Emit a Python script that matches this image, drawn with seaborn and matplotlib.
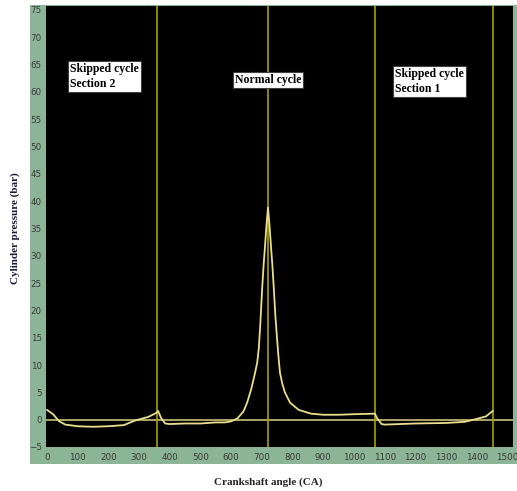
"""
cylinder pressure trace over two engine cycles
"""

import numpy as np
import pandas as pd
import seaborn as sns
import matplotlib.pyplot as plt
from matplotlib.patches import Rectangle


# data
angle = [0, 20, 40, 60, 100, 150, 200, 250, 290, 330, 355, 362, 372, 385, 400,
         450, 500, 550, 580, 600, 620, 640, 652, 665, 678, 685, 690, 695, 701,
         706, 710, 715, 720, 725, 730, 734, 739, 744, 750, 755, 759, 767, 775,
         792, 820, 860, 900, 950, 1000, 1068, 1075, 1090, 1100, 1200, 1300,
         1360, 1390, 1430, 1452]
pressure = [1.8, 1.0, -0.3, -0.9, -1.2, -1.3, -1.2, -1.0, -0.1, 0.5, 1.2, 1.6,
            0.3, -0.7, -0.8, -0.7, -0.7, -0.5, -0.5, -0.3, 0.2, 1.5, 3.1, 5.5,
            8.6, 10.5, 13.0, 17.5, 24.0, 28.5, 31.5, 35.5, 38.8, 35.5, 31.5,
            28.5, 24.0, 19.0, 14.5, 11.0, 8.6, 6.5, 5.0, 3.1, 1.8, 1.1, 0.9,
            0.9, 1.0, 1.1, 0.3, -0.8, -0.9, -0.7, -0.6, -0.4, 0.0, 0.6, 1.6]
markers_at = [360, 720, 1068, 1452]
labels = ["Skipped cycle\nSection 2", "Normal cycle", "Skipped cycle\nSection 1"]
label_pos = [(76, 65.2), (612, 63.3), (1134, 64.3)]

df = pd.DataFrame({"angle": angle, "pressure": pressure})

# configurations
sns.set_style("dark")
plt.rcParams["font.family"] = "DejaVu Sans"

fig = plt.figure(figsize=(5.17, 4.91), dpi=100, facecolor="white")
bg = Rectangle((30 / 517, 1 - 464 / 491), 487 / 517, 459 / 491,
               transform=fig.transFigure, facecolor="#8cb496",
               edgecolor="none", zorder=-10)
fig.add_artist(bg)
ax = fig.add_axes([46 / 517, 1 - 447 / 491, 467 / 517, 441 / 491])
ax.set_zorder(1)
ax.set_facecolor("black")

# plot data
ax.axhline(0, color="#c8c078", linewidth=1.2, zorder=2)
for m in markers_at:
    ax.axvline(m, color="#a8a000", linewidth=1.2, zorder=2)
sns.lineplot(data=df, x="angle", y="pressure", color="#eade8c", linewidth=1.3,
             ax=ax, zorder=3)

for text, (x, y) in zip(labels, label_pos):
    ax.text(x, y, text, fontsize=8.5, fontweight="bold", family="Liberation Serif",
            va="top", ha="left", color="black", linespacing=1.25,
            bbox=dict(facecolor="white", edgecolor="#404040", linewidth=0.8, pad=1.5))

# polish
ax.set_xlim(-3, 1518)
ax.set_ylim(-5, 75.7)
ax.set_xticks(np.arange(0, 1501, 100))
ax.set_yticks(np.arange(-5, 76, 5))
ax.tick_params(axis="both", direction="out", length=2, width=0.6, colors="#404040",
               labelsize=6.3, pad=1, labelcolor="#3a3a3a")
ax.tick_params(axis="x", pad=2.5)
for s in ax.spines.values():
    s.set_visible(False)
ax.grid(False)
ax.set_xlabel("")
ax.set_ylabel("")

fig.text(268 / 517, 1 - 482 / 491, "Crankshaft angle (CA)", ha="center", va="center",
         fontsize=8, fontweight="bold", family="Liberation Serif")
fig.text(15 / 517, 1 - 228 / 491, "Cylinder pressure (bar)", ha="center", va="center",
         rotation=90, fontsize=8, fontweight="bold", family="Liberation Serif",
         color="#1a1a3a")

plt.savefig("out.png", dpi=100)
